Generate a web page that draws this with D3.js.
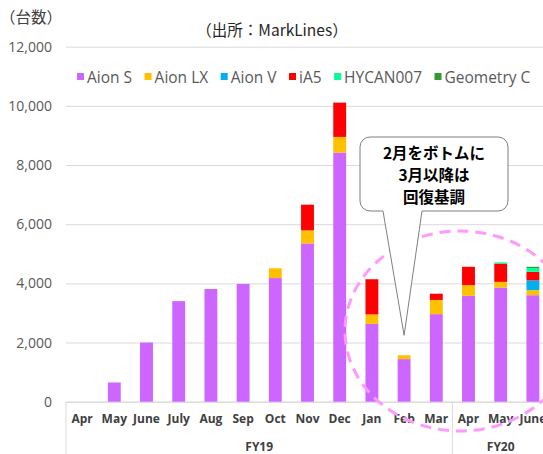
<!DOCTYPE html>
<html>
<head>
<meta charset="utf-8">
<script src="https://cdn.jsdelivr.net/npm/d3@7"></script>
<style>
    body { margin: 0; background: #fff; }
    svg { display: block; }
    .axis text { font-family: "Open Sans", sans-serif; }
    .jp { font-family: "Noto Sans CJK JP", sans-serif; }
</style>
</head>
<body>
<div id="chart"></div>
<script>
// monthly sales (units), FY19 Apr .. FY20 June
const monthLabels = ["Apr", "May", "June", "July", "Aug", "Sep", "Oct", "Nov", "Dec", "Jan", "Feb", "Mar", "Apr", "May", "June"];
const fyLabels = ["FY19", "FY20"];
const fyMonthCounts = [12, 3];

const seriesNames = ["Aion S", "Aion LX", "Aion V", "iA5", "HYCAN007", "Geometry C"];
const aionS     = [0, 650, 2000, 3400, 3810, 3980, 4180, 5350, 8420, 2630, 1440, 2960, 3580, 3860, 3600];
const aionLX    = [0, 0, 0, 0, 0, 0, 330, 440, 530, 320, 130, 480, 360, 190, 170];
const aionV     = [0, 0, 0, 0, 0, 0, 0, 0, 0, 0, 0, 0, 0, 0, 330];
const iA5       = [0, 0, 0, 0, 0, 0, 0, 870, 1160, 1190, 0, 210, 620, 620, 290];
const hycan007  = [0, 0, 0, 0, 0, 0, 0, 0, 0, 0, 0, 0, 0, 40, 130];
const geometryC = [0, 0, 0, 0, 0, 0, 0, 0, 0, 0, 0, 0, 0, 0, 40];

const yTicks = [0, 2000, 4000, 6000, 8000, 10000, 12000];
const seriesColors = ["#cc66ff", "#ffc000", "#00b0f0", "#ff0000", "#00ff99", "#339933"];

class StackedBarChart {
    constructor(parentElement) {
        this.parentElement = parentElement;
        this.initVis();
    }

    initVis() {
        let vis = this;

        const WIDTH = 543;
        const HEIGHT = 454;

        vis.margin = {top: 46.7, right: -6, bottom: 52.3, left: 66};
        vis.width = WIDTH - vis.margin.left - vis.margin.right;
        vis.height = HEIGHT - vis.margin.top - vis.margin.bottom;

        vis.root = d3.select("#" + vis.parentElement).append("svg")
            .attr("width", WIDTH)
            .attr("height", HEIGHT);

        vis.svg = vis.root.append("g")
            .attr("transform", "translate(" + vis.margin.left + "," + vis.margin.top + ")");

        // table built from the series arrays
        const series = [aionS, aionLX, aionV, iA5, hycan007, geometryC];
        vis.table = monthLabels.map((m, i) => {
            let row = {idx: i};
            seriesNames.forEach((s, k) => row[s] = series[k][i]);
            return row;
        });

        vis.x = d3.scaleBand()
            .domain(d3.range(monthLabels.length))
            .range([0, vis.width])
            .paddingInner(0.6)
            .paddingOuter(0.3);

        vis.y = d3.scaleLinear()
            .domain([0, 12000])
            .range([vis.height, 0]);

        vis.color = d3.scaleOrdinal().domain(seriesNames).range(seriesColors);

        vis.updateVis();
    }

    updateVis() {
        let vis = this;

        // gridlines + y labels
        const yAxis = d3.axisLeft(vis.y)
            .tickValues(yTicks)
            .tickFormat(d3.format(","))
            .tickSize(-vis.width)
            .tickPadding(14);

        const yg = vis.svg.append("g").attr("class", "y-axis axis").call(yAxis);
        yg.select(".domain").remove();
        yg.selectAll("line").attr("stroke", "#d9d9d9").attr("stroke-width", 1);
        yg.selectAll("text")
            .attr("fill", "#595959")
            .style("font-size", "14px");

        // x axis (month row)
        const xAxis = d3.axisBottom(vis.x)
            .tickFormat(i => monthLabels[i])
            .tickSize(0)
            .tickSizeOuter(0)
            .tickPadding(13);

        const xg = vis.svg.append("g")
            .attr("class", "x-axis axis")
            .attr("transform", "translate(0," + vis.height + ")")
            .call(xAxis);
        xg.select(".domain").attr("stroke", "#d9d9d9");
        xg.selectAll("text")
            .attr("fill", "#404040")
            .style("font-size", "12px")
            .style("font-weight", "bold");

        // fiscal year row
        const step = vis.x.step();
        const edge = i => vis.x(i) - (step - vis.x.bandwidth()) / 2;
        let start = 0;
        const groups = fyLabels.map((label, k) => {
            let g = {label: label, from: start, to: start + fyMonthCounts[k]};
            start += fyMonthCounts[k];
            return g;
        });
        const seps = [0].concat(groups.map(g => g.to));

        xg.selectAll(".fy-sep").data(seps).enter().append("line")
            .attr("class", "fy-sep")
            .attr("x1", d => edge(0) + d * step)
            .attr("x2", d => edge(0) + d * step)
            .attr("y1", 0)
            .attr("y2", vis.margin.bottom)
            .attr("stroke", "#d9d9d9");

        xg.selectAll(".fy-label").data(groups).enter().append("text")
            .attr("class", "fy-label")
            .attr("x", d => edge(0) + (d.from + d.to) / 2 * step)
            .attr("y", 49.5)
            .attr("text-anchor", "middle")
            .attr("fill", "#404040")
            .style("font-size", "12px")
            .style("font-weight", "bold")
            .text(d => d.label);

        // stacked bars
        const stacked = d3.stack().keys(seriesNames)(vis.table);

        vis.svg.selectAll(".layer").data(stacked).enter().append("g")
            .attr("class", "layer")
            .attr("fill", d => vis.color(d.key))
            .selectAll("rect")
            .data(d => d.filter(p => p[1] > p[0]))
            .enter().append("rect")
            .attr("x", d => vis.x(d.data.idx))
            .attr("y", d => vis.y(d[1]))
            .attr("width", vis.x.bandwidth())
            .attr("height", d => vis.y(d[0]) - vis.y(d[1]));

        // dashed highlight around Jan..June
        vis.root.append("ellipse")
            .attr("cx", 460)
            .attr("cy", 331)
            .attr("rx", 115)
            .attr("ry", 100)
            .attr("fill", "none")
            .attr("stroke", "#ff99ff")
            .attr("stroke-width", 3)
            .attr("stroke-dasharray", "11 7");

        // callout pointing at the Feb bottom
        const feb = 10;
        const tipX = vis.margin.left + vis.x(feb) + vis.x.bandwidth() / 2;
        const tipY = vis.margin.top + vis.y(aionS[feb] + aionLX[feb]) - 20;
        const bx0 = 360, bx1 = 508, by0 = 137, by1 = 211, r = 10;
        const callout = `M${bx0 + r},${by0} H${bx1 - r} A${r},${r} 0 0 1 ${bx1},${by0 + r} V${by1 - r}
            A${r},${r} 0 0 1 ${bx1 - r},${by1} H422 L${tipX},${tipY} L383,${by1} H${bx0 + r}
            A${r},${r} 0 0 1 ${bx0},${by1 - r} V${by0 + r} A${r},${r} 0 0 1 ${bx0 + r},${by0} Z`;
        vis.root.append("path")
            .attr("d", callout)
            .attr("fill", "#fff")
            .attr("stroke", "#7f7f7f")
            .attr("stroke-width", 1);

        vis.root.append("text")
            .attr("class", "jp")
            .attr("x", 434)
            .attr("text-anchor", "middle")
            .style("font-size", "15.5px")
            .style("font-weight", "bold")
            .attr("fill", "#000")
            .selectAll("tspan")
            .data(["2月をボトムに", "3月以降は", "回復基調"])
            .enter().append("tspan")
            .attr("x", 434)
            .attr("y", (d, i) => 158.5 + i * 22)
            .text(d => d);

        // titles
        vis.root.append("text")
            .attr("class", "jp")
            .attr("x", 0)
            .attr("y", 23)
            .attr("fill", "#404040")
            .style("font-size", "15.5px")
            .text("（台数）");

        vis.root.append("text")
            .attr("class", "jp")
            .attr("x", 272)
            .attr("y", 36)
            .attr("text-anchor", "middle")
            .attr("fill", "#262626")
            .style("font-size", "15.5px")
            .text("（出所：MarkLines）");

        // legend
        const legend = vis.root.append("g").attr("class", "legend");
        let lx = 77;
        seriesNames.forEach(name => {
            legend.append("rect")
                .attr("x", lx)
                .attr("y", 73)
                .attr("width", 7)
                .attr("height", 7)
                .attr("fill", vis.color(name));
            const t = legend.append("text")
                .attr("x", lx + 10)
                .attr("y", 83)
                .attr("fill", "#595959")
                .style("font-family", "'Open Sans', sans-serif")
                .style("font-size", "15.5px")
                .text(name);
            lx += 10 + t.node().getComputedTextLength() + 12.5;
        });
    }
}

new StackedBarChart("chart");
</script>
</body>
</html>
